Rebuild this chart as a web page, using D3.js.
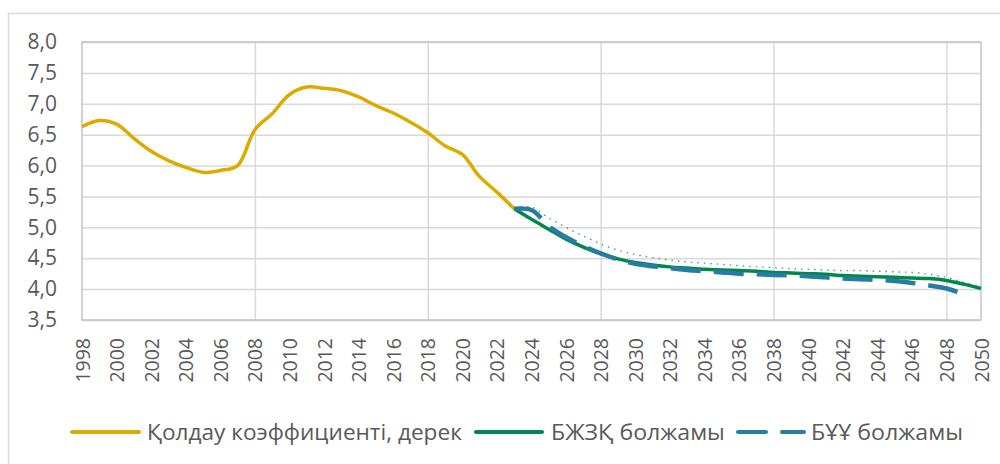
<!DOCTYPE html>
<html lang='kk'>
<head>
  <meta charset='UTF-8'>
  <title>Қолдау коэффициенті</title>
  <style type='text/css'>
    body {
      margin: 0;
      background: #fff;
      font-family: 'Open Sans', sans-serif;
    }
    .axis text {
      fill: #595959;
      font-family: 'Open Sans', sans-serif;
    }
    .axis path,
    .axis line {
      stroke: none;
    }
    .grid line {
      stroke: #d9d9d9;
      stroke-width: 1.5px;
    }
    .grid path {
      stroke: none;
    }
    .legend text {
      fill: #595959;
      font-family: 'Open Sans', sans-serif;
      font-size: 22px;
    }
  </style>
  <script type='text/javascript' src='https://cdn.jsdelivr.net/npm/d3@7/dist/d3.min.js'></script>
</head>
<body>
  <script type='text/javascript'>
    // data
    const factYears = [1998, 1999, 2000, 2001, 2002, 2003, 2004, 2005, 2006, 2007, 2008, 2009, 2010,
      2011, 2012, 2013, 2014, 2015, 2016, 2017, 2018, 2019, 2020, 2021, 2022, 2023]
    const factValues = [6.63, 6.73, 6.67, 6.44, 6.23, 6.08, 5.97, 5.89, 5.92, 6.00, 6.58, 6.84, 7.15,
      7.27, 7.25, 7.21, 7.11, 6.97, 6.85, 6.70, 6.53, 6.32, 6.18, 5.82, 5.57, 5.30]

    const forecastYears = [2023, 2024, 2025, 2026, 2027, 2028, 2029, 2030, 2031, 2032, 2033, 2034, 2035, 2036,
      2037, 2038, 2039, 2040, 2041, 2042, 2043, 2044, 2045, 2046, 2047, 2048, 2049, 2050]
    const enpfValues = [5.30, 5.13, 4.97, 4.81, 4.68, 4.57, 4.49, 4.43, 4.39, 4.36, 4.34, 4.32, 4.31, 4.30,
      4.29, 4.27, 4.26, 4.25, 4.24, 4.22, 4.21, 4.20, 4.19, 4.18, 4.17, 4.14, 4.08, 4.01]
    const unValues = [5.30, 5.28, 5.02, 4.84, 4.70, 4.58, 4.48, 4.41, 4.37, 4.34, 4.31, 4.29, 4.27, 4.25,
      4.24, 4.23, 4.22, 4.21, 4.19, 4.17, 4.16, 4.15, 4.13, 4.10, 4.06, 4.01, 3.92]
    const dottedValues = [5.30, 5.33, 5.15, 5.00, 4.86, 4.73, 4.63, 4.56, 4.51, 4.47, 4.44, 4.42, 4.40, 4.38,
      4.36, 4.35, 4.33, 4.32, 4.31, 4.30, 4.30, 4.29, 4.28, 4.27, 4.24, 4.19, 4.11, 4.04]

    const yTicks = [3.5, 4.0, 4.5, 5.0, 5.5, 6.0, 6.5, 7.0, 7.5, 8.0]
    const xTicks = [1998, 2000, 2002, 2004, 2006, 2008, 2010, 2012, 2014, 2016, 2018, 2020, 2022, 2024,
      2026, 2028, 2030, 2032, 2034, 2036, 2038, 2040, 2042, 2044, 2046, 2048, 2050]
    const xGrid = [2008, 2018, 2028, 2038, 2048]

    const legendLabels = ['Қолдау коэффициенті, дерек', 'БЖЗҚ болжамы', 'БҰҰ болжамы']

    const yellow = '#dbab00'
    const green = '#00874a'
    const blue = '#267ca2'

    const W = 1000, H = 464
    const plotL = 82, plotR = 981, plotT = 42, plotB = 320

    const svg = d3.select('body').append('svg')
      .attr('width', W)
      .attr('height', H)

    // chart frame
    svg.append('rect')
      .attr('x', 8.5)
      .attr('y', 13.5)
      .attr('width', 1010)
      .attr('height', 470)
      .attr('fill', 'none')
      .attr('stroke', '#d9d9d9')
      .attr('stroke-width', 1.5)

    const x = d3.scaleLinear().domain([1998, 2050]).range([plotL, plotR])
    const y = d3.scaleLinear().domain([3.5, 8]).range([plotB, plotT])

    const fmt = d => d3.format('.1f')(d).replace('.', ',')

    // grid
    svg.append('g')
      .attr('class', 'grid')
      .attr('transform', `translate(${plotL},0)`)
      .call(d3.axisLeft(y).tickValues(yTicks).tickSize(-(plotR - plotL)).tickFormat(''))

    svg.append('g')
      .attr('class', 'grid')
      .attr('transform', `translate(0,${plotB})`)
      .call(d3.axisBottom(x).tickValues(xGrid).tickSize(-(plotB - plotT)).tickFormat(''))

    // plot border
    svg.append('rect')
      .attr('x', plotL)
      .attr('y', plotT)
      .attr('width', plotR - plotL)
      .attr('height', plotB - plotT)
      .attr('fill', 'none')
      .attr('stroke', '#c4c4c4')
      .attr('stroke-width', 1.5)

    // axes
    svg.append('g')
      .attr('class', 'axis')
      .attr('transform', `translate(${plotL},0)`)
      .call(d3.axisLeft(y).tickValues(yTicks).tickSize(0).tickPadding(25).tickFormat(fmt))
      .selectAll('text')
      .style('font-size', '21px')

    svg.append('g')
      .attr('class', 'axis')
      .attr('transform', `translate(0,${plotB})`)
      .call(d3.axisBottom(x).tickValues(xTicks).tickSize(0).tickFormat(d3.format('d')))
      .selectAll('text')
      .style('font-size', '19.5px')
      .style('text-anchor', 'end')
      .attr('transform', 'rotate(-90)')
      .attr('x', -18)
      .attr('y', 0)
      .attr('dy', '.36em')

    const line = d3.line()
      .x(d => x(d[0]))
      .y(d => y(d[1]))
      .curve(d3.curveCatmullRom.alpha(0.5))

    const fact = factYears.map((d, i) => [d, factValues[i]])
    const enpf = forecastYears.map((d, i) => [d, enpfValues[i]])
    const un = unValues.map((d, i) => [forecastYears[i], d])
    const dotted = forecastYears.map((d, i) => [d, dottedValues[i]])

    svg.append('path')
      .datum(fact)
      .attr('d', line)
      .attr('fill', 'none')
      .attr('stroke', yellow)
      .attr('stroke-width', 3.5)

    svg.append('path')
      .datum(dotted)
      .attr('d', line)
      .attr('fill', 'none')
      .attr('stroke', green)
      .attr('stroke-width', 1.4)
      .attr('stroke-dasharray', '1.5,5')
      .attr('opacity', 0.75)

    svg.append('path')
      .datum(enpf)
      .attr('d', line)
      .attr('fill', 'none')
      .attr('stroke', green)
      .attr('stroke-width', 3.5)

    svg.append('path')
      .datum(un)
      .attr('d', line)
      .attr('fill', 'none')
      .attr('stroke', blue)
      .attr('stroke-width', 4.5)
      .attr('stroke-dasharray', '30,13')

    // legend (text fitted to the widths in the original)
    const legend = svg.append('g').attr('class', 'legend')
    const ly = 432
    const items = [
      {label: legendLabels[0], color: yellow, x1: 72, x2: 139, tx: 147, tw: 315, dash: null},
      {label: legendLabels[1], color: green, x1: 476, x2: 542, tx: 551, tw: 174, dash: null},
      {label: legendLabels[2], color: blue, x1: 738, x2: 804, tx: 811, tw: 152, dash: '28,16'},
    ]
    items.forEach(it => {
      legend.append('line')
        .attr('x1', it.x1).attr('x2', it.x2)
        .attr('y1', ly).attr('y2', ly)
        .attr('stroke', it.color)
        .attr('stroke-width', 4)
        .attr('stroke-linecap', 'round')
        .attr('stroke-dasharray', it.dash)
      const g = legend.append('g')
      const t = g.append('text')
        .attr('x', 0)
        .attr('y', 0)
        .attr('dy', '.35em')
        .text(it.label)
      const len = t.node().getComputedTextLength()
      g.attr('transform', `translate(${it.tx},${ly}) scale(${it.tw / len},1)`)
    })
  </script>
</body>
</html>
